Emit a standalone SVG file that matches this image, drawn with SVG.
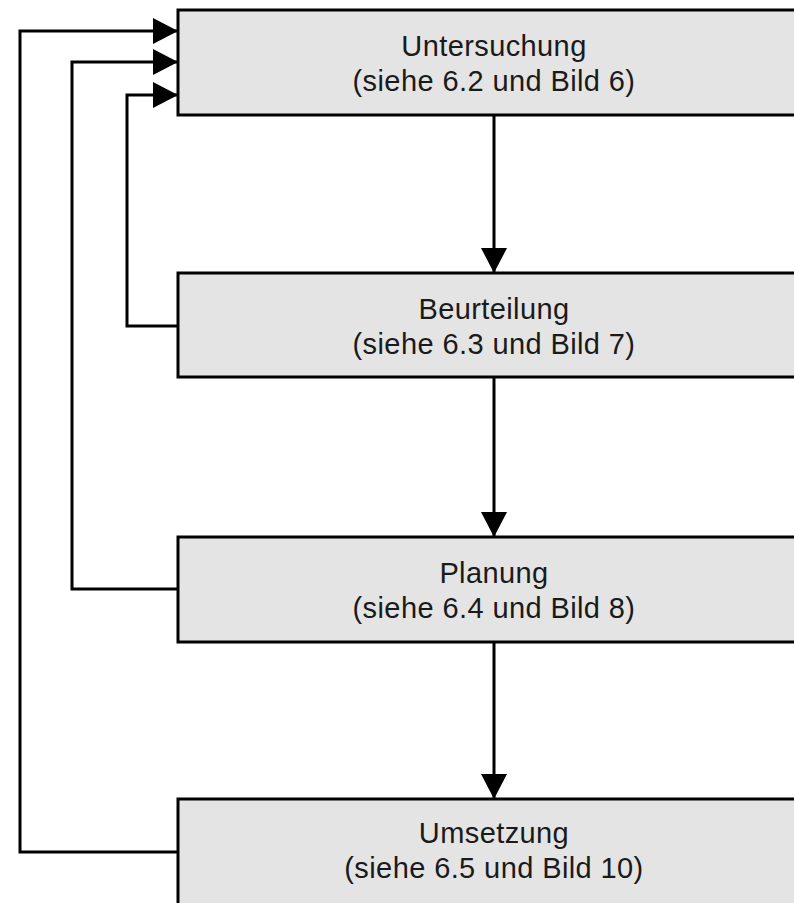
<svg xmlns="http://www.w3.org/2000/svg" width="794" height="903" viewBox="0 0 794 903">
<style>
.box{fill:#e4e4e4;stroke:#000;stroke-width:3}
.lbl{font-family:"Liberation Sans",Arial,sans-serif;font-size:29px;letter-spacing:0.4px;fill:#1a1a1a;text-anchor:middle}
.conn{fill:none;stroke:#000;stroke-width:3}
</style>
<defs>
<marker id="arr" markerUnits="userSpaceOnUse" viewBox="0 0 25 26" refX="25" refY="13" markerWidth="25" markerHeight="26" orient="auto">
<path d="M0,0 L25,13 L0,26 z" fill="#000"/>
</marker>
</defs>
<rect width="794" height="903" fill="#fff"/>
<g id="connectors">
<path class="conn" d="M494,115 V273" marker-end="url(#arr)"/>
<path class="conn" d="M494,377 V537" marker-end="url(#arr)"/>
<path class="conn" d="M494,642 V799" marker-end="url(#arr)"/>
<path class="conn" d="M178,326 H127 V95 H178" marker-end="url(#arr)"/>
<path class="conn" d="M178,589 H72 V62 H178" marker-end="url(#arr)"/>
<path class="conn" d="M178,852 H20 V31 H178" marker-end="url(#arr)"/>
</g>
<g id="n1">
<rect class="box" x="178" y="10" width="630" height="105"/>
<text class="lbl" x="494" y="56">Untersuchung</text>
<text class="lbl" x="494" y="91">(siehe 6.2 und Bild 6)</text>
</g>
<g id="n2">
<rect class="box" x="178" y="273" width="630" height="104"/>
<text class="lbl" x="494" y="319">Beurteilung</text>
<text class="lbl" x="494" y="354">(siehe 6.3 und Bild 7)</text>
</g>
<g id="n3">
<rect class="box" x="178" y="537" width="630" height="105"/>
<text class="lbl" x="494" y="583">Planung</text>
<text class="lbl" x="494" y="618">(siehe 6.4 und Bild 8)</text>
</g>
<g id="n4">
<rect class="box" x="178" y="799" width="630" height="120"/>
<text class="lbl" x="494" y="843">Umsetzung</text>
<text class="lbl" x="494" y="878">(siehe 6.5 und Bild 10)</text>
</g>
</svg>
